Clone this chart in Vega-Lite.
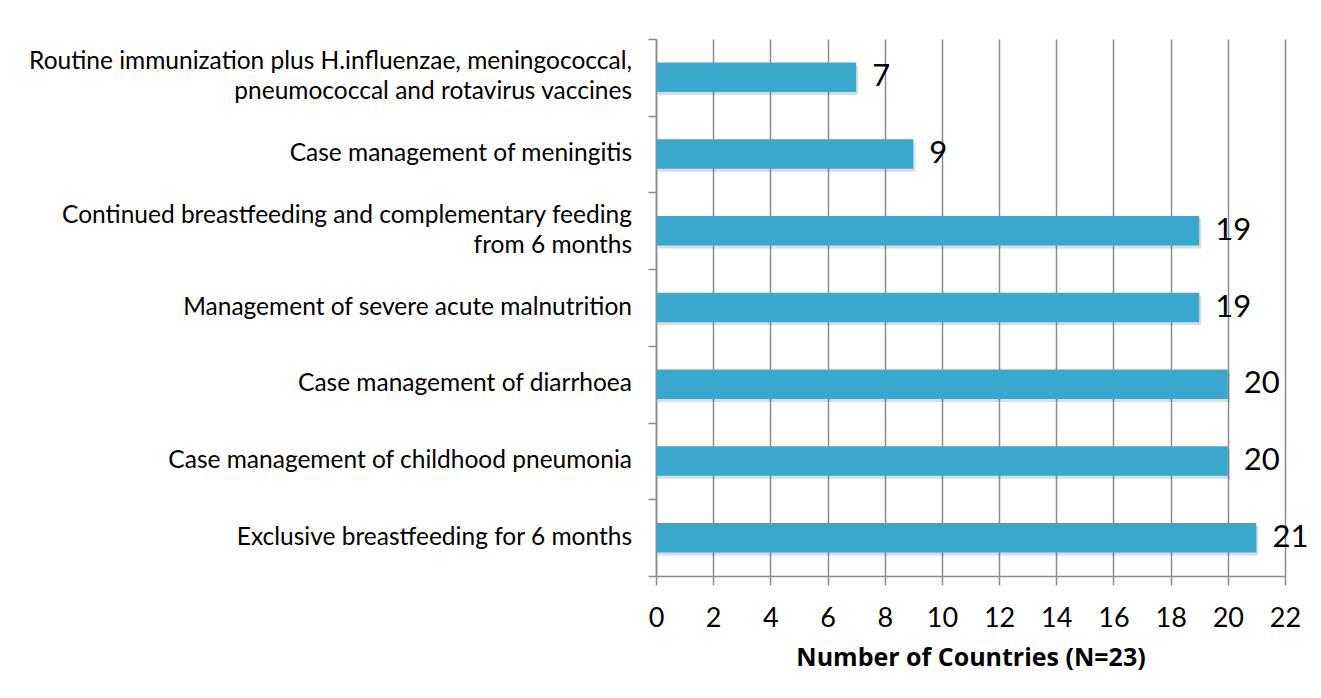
{
  "$schema": "https://vega.github.io/schema/vega-lite/v6.json",
  "autosize": "none",
  "width": 629,
  "height": 537,
  "padding": {"left": 656, "top": 39, "right": 36, "bottom": 122},
  "background": "white",
  "config": {
    "view": {"stroke": null},
    "font": "Lato"
  },
  "data": {
    "values": [
      {"intervention": "Routine immunization plus H.influenzae, meningococcal, pneumococcal and rotavirus vaccines", "label": ["Routine immunization plus H.influenzae, meningococcal,", "pneumococcal and rotavirus vaccines"], "countries": 7},
      {"intervention": "Case management of meningitis", "label": "Case management of meningitis", "countries": 9},
      {"intervention": "Continued breastfeeding and complementary feeding from 6 months", "label": ["Continued breastfeeding and complementary feeding", "from 6 months"], "countries": 19},
      {"intervention": "Management of severe acute malnutrition", "label": "Management of severe acute malnutrition", "countries": 19},
      {"intervention": "Case management of diarrhoea", "label": "Case management of diarrhoea", "countries": 20},
      {"intervention": "Case management of childhood pneumonia", "label": "Case management of childhood pneumonia", "countries": 20},
      {"intervention": "Exclusive breastfeeding for 6 months", "label": "Exclusive breastfeeding for 6 months", "countries": 21}
    ]
  },
  "encoding": {
    "y": {
      "field": "intervention",
      "type": "nominal",
      "sort": null,
      "scale": {"paddingInner": 0, "paddingOuter": 0},
      "axis": {
        "title": null,
        "labels": false,
        "tickBand": "extent",
        "domainColor": "#8c8c8c",
        "domainWidth": 1.5,
        "tickColor": "#8c8c8c",
        "tickWidth": 1.5,
        "tickSize": 8
      }
    },
    "x": {
      "field": "countries",
      "type": "quantitative",
      "scale": {"domain": [0, 22], "nice": false},
      "axis": {
        "title": "Number of Countries (N=23)",
        "titleFont": "Open Sans",
        "titleFontSize": 25,
        "titleFontWeight": "bold",
        "titleColor": "#000000",
        "titlePadding": 14,
        "values": [0, 2, 4, 6, 8, 10, 12, 14, 16, 18, 20, 22],
        "labelFlush": false,
        "labelOverlap": false,
        "grid": true,
        "gridColor": "#8c8c8c",
        "gridWidth": 1.5,
        "domainColor": "#8c8c8c",
        "domainWidth": 1.5,
        "tickColor": "#8c8c8c",
        "tickWidth": 1.5,
        "tickSize": 9,
        "labelPadding": 20,
        "labelFont": "Lato",
        "labelFontSize": 27,
        "labelColor": "#000000"
      }
    }
  },
  "layer": [
    {
      "mark": {"type": "bar", "height": {"band": 0.385}, "color": "#555555", "opacity": 0.2, "yOffset": 3, "xOffset": 2},
      "encoding": {}
    },
    {
      "mark": {"type": "bar", "height": {"band": 0.385}, "color": "#3AA7CC"},
      "encoding": {}
    },
    {
      "mark": {"type": "text", "align": "left", "baseline": "middle", "dx": 16, "font": "Lato", "fontSize": 31, "color": "#000000"},
      "encoding": {"text": {"field": "countries", "type": "quantitative"}}
    },
    {
      "transform": [{"filter": "!isArray(datum.label)"}],
      "mark": {"type": "text", "align": "right", "baseline": "middle", "dx": -24, "font": "Lato", "fontSize": 24.5, "color": "#000000", "lineHeight": 30},
      "encoding": {"x": {"datum": 0}, "text": {"field": "label", "type": "nominal"}}
    },
    {
      "transform": [{"filter": "isArray(datum.label)"}],
      "mark": {"type": "text", "align": "right", "baseline": "middle", "dx": -24, "dy": -15, "font": "Lato", "fontSize": 24.5, "color": "#000000", "lineHeight": 30},
      "encoding": {"x": {"datum": 0}, "text": {"field": "label", "type": "nominal"}}
    }
  ]
}
